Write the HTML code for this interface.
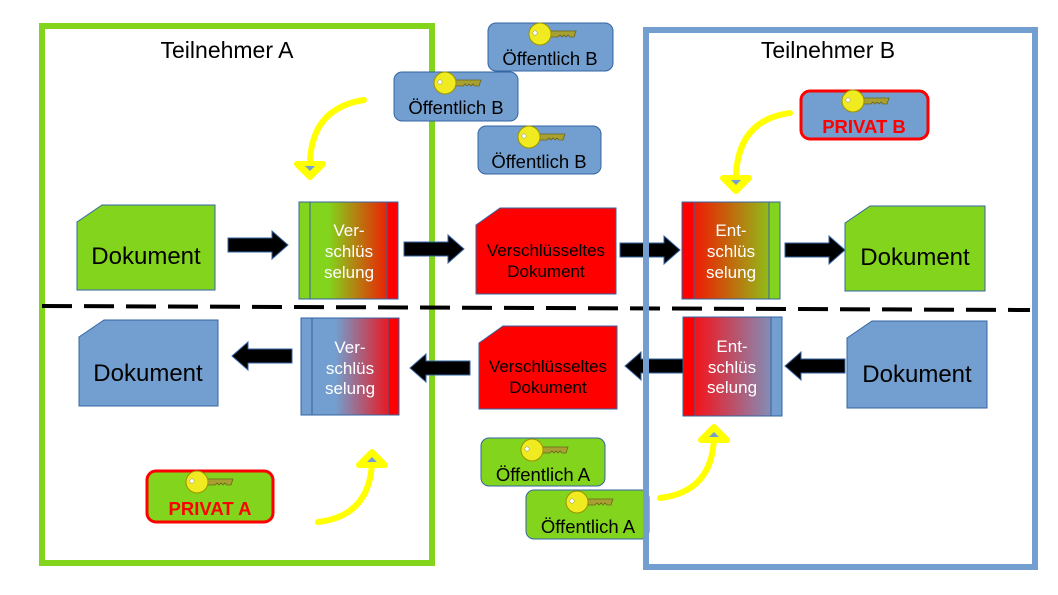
<!DOCTYPE html>
<html><head><meta charset="utf-8"><style>body{margin:0;background:#fff}svg{display:block}text{font-family:"Liberation Sans",sans-serif}</style></head><body>
<svg width="1058" height="595" viewBox="0 0 1058 595" xmlns="http://www.w3.org/2000/svg">
<defs>
<linearGradient id="gr" x1="0" x2="1"><stop offset="0.3" stop-color="#83d41c"/><stop offset="1" stop-color="#ff0000"/></linearGradient>
<linearGradient id="rg" x1="0" x2="1"><stop offset="0" stop-color="#ff0000"/><stop offset="1" stop-color="#83d41c"/></linearGradient>
<linearGradient id="br" x1="0" x2="1"><stop offset="0.35" stop-color="#729fcf"/><stop offset="1" stop-color="#ff0000"/></linearGradient>
<linearGradient id="rb" x1="0" x2="1"><stop offset="0" stop-color="#ff0000"/><stop offset="0.2" stop-color="#e8202a"/><stop offset="1" stop-color="#729fcf"/></linearGradient>
<g id="key"><path d="M8,-3 H36 L34,3 H30 L28,1 L26,3 L24,1 L22,3 L20,1 L18,3 H8 Z" fill="#a8a030" stroke="#6b6520" stroke-width="0.8"/><circle cx="0" cy="0" r="11" fill="#f0ea20" stroke="#9a9400" stroke-width="1"/><circle cx="-5" cy="-1" r="2.2" fill="#fff" stroke="#888" stroke-width="0.5"/></g>
<g id="ar"><path d="M0,-7 H44 V-14 L60,0 L44,14 V7 H0 Z" fill="#000" stroke="#3465a4" stroke-width="1"/></g>
</defs>
<rect x="42" y="26" width="390" height="537" fill="none" stroke="#83d41c" stroke-width="6"/>
<text x="227" y="58" font-size="23" text-anchor="middle">Teilnehmer A</text>
<text x="828" y="58" font-size="23" text-anchor="middle">Teilnehmer B</text>
<line x1="42" y1="306" x2="1030" y2="310" stroke="#000" stroke-width="4" stroke-dasharray="30,12"/>
<!-- top row -->
<path d="M77,222 L102,205 H215 V290 H77 Z" fill="#83d41c" stroke="#3465a4" stroke-width="1"/>
<text x="146" y="264" font-size="24" text-anchor="middle">Dokument</text>
<use href="#ar" x="228" y="245"/>
<rect x="299" y="202" width="99" height="97" fill="url(#gr)" stroke="#3465a4"/>
<rect x="299" y="202" width="11" height="97" fill="#83d41c" stroke="#3465a4"/>
<rect x="387" y="202" width="11" height="97" fill="#ff0000" stroke="#3465a4"/>
<text font-size="17" fill="#fff" text-anchor="middle"><tspan x="349" y="236">Ver-</tspan><tspan x="349" y="257">schlüs</tspan><tspan x="349" y="278">selung</tspan></text>
<use href="#ar" x="404" y="249"/>
<path d="M476,225 L500,208 H616 V294 H476 Z" fill="#ff0000" stroke="#3465a4"/>
<text font-size="17" text-anchor="middle"><tspan x="546" y="256">Verschlüsseltes</tspan><tspan x="546" y="277">Dokument</tspan></text>
<use href="#ar" x="620" y="250"/>
<rect x="682" y="202" width="98" height="97" fill="url(#rg)" stroke="#3465a4"/>
<rect x="682" y="202" width="12" height="97" fill="#ff0000" stroke="#3465a4"/>
<rect x="769" y="202" width="11" height="97" fill="#83d41c" stroke="#3465a4"/>
<text font-size="17" fill="#fff" text-anchor="middle"><tspan x="731" y="236">Ent-</tspan><tspan x="731" y="257">schlüs</tspan><tspan x="731" y="278">selung</tspan></text>
<use href="#ar" x="785" y="250"/>
<path d="M845,223 L870,206 H985 V291 H845 Z" fill="#83d41c" stroke="#3465a4"/>
<text x="915" y="265" font-size="24" text-anchor="middle">Dokument</text>
<!-- bottom row -->
<path d="M79,337 L104,320 H218 V406 H79 Z" fill="#729fcf" stroke="#3465a4"/>
<text x="148" y="381" font-size="24" text-anchor="middle">Dokument</text>
<use href="#ar" transform="translate(292,356) scale(-1,1)"/>
<rect x="301" y="318" width="98" height="97" fill="url(#br)" stroke="#3465a4"/>
<rect x="301" y="318" width="11" height="97" fill="#729fcf" stroke="#3465a4"/>
<rect x="388" y="318" width="11" height="97" fill="#ff0000" stroke="#3465a4"/>
<text font-size="17" fill="#fff" text-anchor="middle"><tspan x="350" y="353">Ver-</tspan><tspan x="350" y="374">schlüs</tspan><tspan x="350" y="394">selung</tspan></text>
<use href="#ar" transform="translate(470,368) scale(-1,1)"/>
<path d="M479,343 L503,326 H617 V409 H479 Z" fill="#ff0000" stroke="#3465a4"/>
<text font-size="17" text-anchor="middle"><tspan x="548" y="372">Verschlüsseltes</tspan><tspan x="548" y="393">Dokument</tspan></text>
<use href="#ar" transform="translate(685,366) scale(-1,1)"/>
<rect x="683" y="317" width="99" height="99" fill="url(#rb)" stroke="#3465a4"/>
<rect x="683" y="317" width="12" height="99" fill="#ff0000" stroke="#3465a4"/>
<rect x="771" y="317" width="11" height="99" fill="#729fcf" stroke="#3465a4"/>
<text font-size="17" fill="#fff" text-anchor="middle"><tspan x="732" y="352">Ent-</tspan><tspan x="732" y="373">schlüs</tspan><tspan x="732" y="393">selung</tspan></text>
<use href="#ar" transform="translate(845,366) scale(-1,1)"/>
<path d="M847,338 L872,321 H987 V408 H847 Z" fill="#729fcf" stroke="#3465a4"/>
<text x="917" y="382" font-size="24" text-anchor="middle">Dokument</text>
<!-- key boxes -->
<g font-size="18.5" text-anchor="middle">
<rect x="488" y="23" width="125" height="48" rx="8" fill="#729fcf" stroke="#3465a4"/><use href="#key" x="540" y="34"/><text x="550" y="65">Öffentlich B</text>
<rect x="394" y="72" width="124" height="49" rx="8" fill="#729fcf" stroke="#3465a4"/><use href="#key" x="445" y="83"/><text x="456" y="114">Öffentlich B</text>
<rect x="478" y="126" width="123" height="48" rx="8" fill="#729fcf" stroke="#3465a4"/><use href="#key" x="529" y="137"/><text x="539" y="168">Öffentlich B</text>
<rect x="801" y="91" width="127" height="48" rx="9" fill="#729fcf" stroke="#ff0000" stroke-width="3"/><use href="#key" x="853" y="101"/><text x="864" y="133" fill="#ff0000" font-weight="bold">PRIVAT B</text>
<rect x="481" y="438" width="124" height="48" rx="8" fill="#83d41c" stroke="#3465a4"/><use href="#key" x="532" y="450"/><text x="543" y="481">Öffentlich A</text>
<rect x="526" y="490" width="123" height="49" rx="8" fill="#83d41c" stroke="#3465a4"/><use href="#key" x="577" y="502"/><text x="588" y="533">Öffentlich A</text>
<rect x="147" y="471" width="126" height="51" rx="9" fill="#83d41c" stroke="#ff0000" stroke-width="3"/><use href="#key" x="197" y="482"/><text x="210" y="515" fill="#ff0000" font-weight="bold">PRIVAT A</text>
</g>
<rect x="646" y="30" width="389" height="537" fill="none" stroke="#729fcf" stroke-width="6"/>
<g fill="none" stroke="#ffff00" stroke-width="6" stroke-linecap="round" stroke-linejoin="round">
<path d="M364,100 Q312,108 310,162"/><path d="M297,164 H323 L310,177 Z" fill="#ffff00"/>
<path d="M790,113 Q738,120 736,176"/><path d="M723,178 H749 L736,191 Z" fill="#ffff00"/>
<path d="M318,522 Q370,516 372,462"/><path d="M359,465 H385 L372,452 Z" fill="#ffff00"/>
<path d="M660,498 Q712,492 714,438"/><path d="M701,440 H727 L714,427 Z" fill="#ffff00"/>
</g>
<g fill="#729fcf"><path d="M305,166 H315 L310,171 Z"/><path d="M731,180 H741 L736,185 Z"/><path d="M367,462 H377 L372,457 Z"/><path d="M709,437 H719 L714,432 Z"/></g>
</svg>
</body></html>
